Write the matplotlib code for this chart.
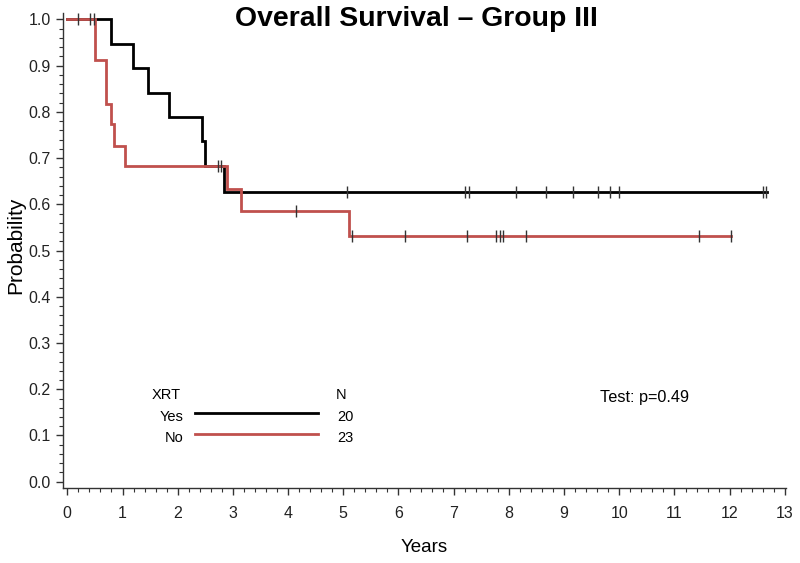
import matplotlib
import matplotlib.pyplot as plt
from matplotlib.lines import Line2D
from matplotlib.ticker import MultipleLocator, FormatStrFormatter

matplotlib.use("Agg")
plt.rcParams["font.family"] = ["Liberation Sans", "DejaVu Sans"]

# Kaplan-Meier steps
yes_times = [0.0, 0.80, 1.19, 1.46, 1.85, 2.44, 2.49, 2.83, 12.68]
yes_surv = [1.0, 0.947, 0.894, 0.842, 0.790, 0.737, 0.684, 0.627, 0.627]
yes_censor = [2.73, 2.78, 5.07, 7.20, 7.27, 8.12, 8.67, 9.16, 9.62, 9.84,
              10.00, 12.60, 12.66]

no_times = [0.0, 0.50, 0.70, 0.79, 0.845, 1.045, 2.90, 3.14, 5.10, 12.02]
no_surv = [1.0, 0.913, 0.818, 0.773, 0.727, 0.683, 0.634, 0.586, 0.532, 0.532]
no_censor = [0.20, 0.42, 0.48, 4.15, 5.16, 6.11, 7.24, 7.77, 7.83, 7.89,
             8.31, 11.45, 12.02]

groups = ["Yes", "No"]
group_n = [20, 23]
colors = ["#000000", "#c0504d"]
p_value = 0.49


def surv_at(times, surv, t):
    val = surv[0]
    for ti, si in zip(times, surv):
        if ti <= t:
            val = si
    return val


fig = plt.figure(figsize=(8.0, 5.63), dpi=100)
ax = fig.add_axes([0.0784, 0.1337, 0.9041, 0.8432])

series = [(yes_times, yes_surv, yes_censor), (no_times, no_surv, no_censor)]
for (times, surv, cens), col in zip(series, colors):
    ax.step(times, surv, where="post", color=col, lw=2.0, zorder=3,
            solid_joinstyle="miter")
    cy = [surv_at(times, surv, c) for c in cens]
    ax.plot(cens, cy, ls="none", marker="|", ms=8, mew=1.0,
            color="#333333", zorder=4)

ax.set_xlim(-0.083, 13.02)
ax.set_ylim(-0.013, 1.014)
ax.xaxis.set_major_locator(MultipleLocator(1))
ax.xaxis.set_minor_locator(MultipleLocator(0.2))
ax.yaxis.set_major_locator(MultipleLocator(0.1))
ax.yaxis.set_minor_locator(MultipleLocator(0.02))
ax.yaxis.set_major_formatter(FormatStrFormatter("%.1f"))
ax.tick_params(which="major", length=5, width=1, labelsize=11.5,
               color="#333333", labelcolor="#222222")
ax.tick_params(which="minor", length=3, width=0.8, color="#333333")
ax.tick_params(axis="x", pad=8)
for side in ["top", "right"]:
    ax.spines[side].set_visible(False)
for side in ["left", "bottom"]:
    ax.spines[side].set_color("#333333")
    ax.spines[side].set_linewidth(1.0)

ax.set_xlabel("Years", fontsize=13.5, labelpad=13)
ax.set_ylabel("Probability", fontsize=15)
ax.yaxis.set_label_coords(-0.052, 0.511)
fig.text(0.52, 0.966, "Overall Survival \u2013 Group III", ha="center",
         va="center", fontsize=20.4, fontweight="bold")

# legend block
ax.text(0.1235, 0.1953, "XRT", transform=ax.transAxes, fontsize=10.5,
        va="center", ha="left")
ax.text(0.378, 0.1953, "N", transform=ax.transAxes, fontsize=10.5,
        va="center", ha="left")
label_y = [0.149, 0.1047]
line_y = [0.157, 0.113]
for name, n, col, ly, lny in zip(groups, group_n, colors, label_y, line_y):
    ax.text(0.1663, ly, name, transform=ax.transAxes, fontsize=10.5,
            va="center", ha="right")
    ax.add_line(Line2D([0.183, 0.353], [lny, lny], transform=ax.transAxes,
                       color=col, lw=2.0))
    ax.text(0.379, ly, str(n), transform=ax.transAxes, fontsize=10.5,
            va="center", ha="left")

ax.text(0.743, 0.191, f"Test: p={p_value:.2f}", transform=ax.transAxes,
        fontsize=11.7, va="center", ha="left")

fig.savefig("out.png", dpi=100, facecolor="white")
